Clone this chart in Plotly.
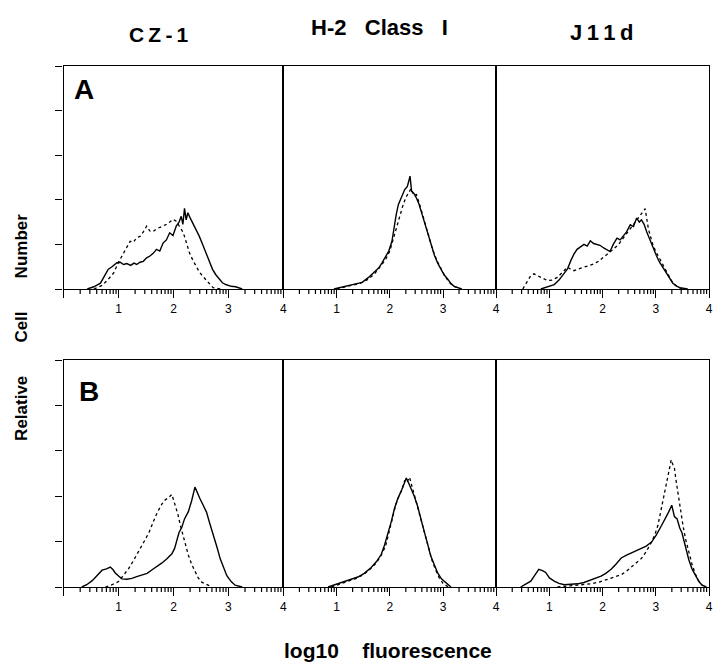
import math
import plotly.graph_objects as go

# ---------------- data (log10 fluorescence, relative cell number) ----------------
columns = ["C\u2009Z\u2009-\u20091", "H-2   Class   I", "J\u20091\u20091\u2009d"]
rows = ["A", "B"]
tick_labels = ["1", "2", "3", "4"]

# Row A
a1_solid_x = [0.43,0.55,0.67,0.75,0.81,0.88,0.97,1.03,1.09,1.15,1.22,1.28,1.33,1.39,1.45,1.51,1.57,1.63,1.69,1.75,1.81,1.87,1.93,1.99,2.05,2.1,2.14,2.17,2.2,2.23,2.26,2.3,2.35,2.41,2.47,2.53,2.59,2.65,2.71,2.77,2.83,2.89,2.95,3.05,3.13,3.25]
a1_solid_y = [0,0.05,0.13,0.3,0.44,0.5,0.59,0.6,0.55,0.57,0.53,0.58,0.55,0.6,0.62,0.7,0.74,0.8,0.89,0.85,1.03,1.1,1.26,1.2,1.41,1.5,1.63,1.45,1.81,1.55,1.71,1.6,1.48,1.35,1.18,1.0,0.81,0.62,0.44,0.32,0.22,0.14,0.1,0.06,0.05,0]
a1_dot_x = [0.55,0.7,0.8,0.91,1.0,1.09,1.15,1.21,1.27,1.33,1.39,1.45,1.51,1.57,1.63,1.69,1.75,1.81,1.87,1.93,1.99,2.05,2.11,2.16,2.2,2.25,2.29,2.35,2.41,2.47,2.53,2.59,2.65,2.72,2.85]
a1_dot_y = [0,0.08,0.2,0.36,0.6,0.81,0.95,1.07,1.05,1.15,1.18,1.28,1.41,1.3,1.29,1.35,1.38,1.41,1.45,1.5,1.56,1.52,1.41,1.3,1.18,1.0,0.81,0.65,0.51,0.38,0.29,0.2,0.13,0.03,0]

a2_solid_x = [0.95,1.1,1.23,1.35,1.48,1.6,1.7,1.79,1.85,1.91,1.98,2.04,2.08,2.12,2.16,2.22,2.28,2.33,2.38,2.41,2.45,2.5,2.55,2.59,2.65,2.72,2.78,2.84,2.9,2.96,3.02,3.09,3.15,3.21,3.35]
a2_solid_y = [0,0.04,0.08,0.12,0.15,0.26,0.36,0.47,0.58,0.7,0.85,1.07,1.4,1.67,1.89,2.08,2.23,2.3,2.53,2.19,2.15,2.04,1.9,1.74,1.5,1.2,0.95,0.75,0.58,0.45,0.32,0.22,0.12,0.06,0]
a2_dot_x = [1.0,1.15,1.3,1.45,1.6,1.72,1.82,1.92,2.0,2.06,2.12,2.18,2.24,2.3,2.35,2.4,2.45,2.5,2.56,2.62,2.68,2.74,2.8,2.88,2.96,3.04,3.12,3.2,3.35]
a2_dot_y = [0,0.04,0.09,0.13,0.22,0.35,0.5,0.66,0.85,1.1,1.4,1.6,1.85,2.05,2.15,2.25,2.1,2.12,1.9,1.65,1.4,1.15,0.9,0.65,0.45,0.28,0.15,0.06,0]

a3_solid_x = [0.84,0.95,1.09,1.18,1.27,1.34,1.4,1.46,1.52,1.58,1.65,1.71,1.77,1.83,1.89,1.95,2.02,2.08,2.14,2.2,2.27,2.33,2.39,2.45,2.52,2.58,2.64,2.69,2.73,2.78,2.83,2.89,2.95,3.01,3.07,3.13,3.2,3.26,3.32,3.4,3.45,3.6]
a3_solid_y = [0,0.04,0.1,0.2,0.33,0.45,0.63,0.78,0.89,0.95,1.0,0.96,1.08,1.02,1.0,0.98,0.92,0.88,0.84,1.0,1.14,1.1,1.2,1.28,1.44,1.4,1.59,1.5,1.55,1.45,1.28,1.1,0.9,0.75,0.6,0.48,0.36,0.24,0.13,0.06,0.03,0]
a3_dot_x = [0.5,0.59,0.65,0.71,0.78,0.84,0.9,0.96,1.05,1.15,1.25,1.34,1.4,1.46,1.55,1.65,1.74,1.83,1.92,2.02,2.11,2.2,2.3,2.39,2.48,2.58,2.65,2.71,2.76,2.8,2.86,2.9,2.95,3.04,3.14,3.23,3.32,3.42,3.5]
a3_dot_y = [0,0.19,0.3,0.34,0.3,0.26,0.22,0.19,0.2,0.26,0.38,0.49,0.44,0.41,0.45,0.49,0.52,0.56,0.62,0.71,0.8,0.89,1.0,1.14,1.28,1.44,1.55,1.65,1.74,1.8,1.35,1.15,0.97,0.75,0.52,0.32,0.13,0.04,0]

# Row B
b1_solid_x = [0.33,0.42,0.52,0.6,0.7,0.78,0.85,0.9,0.94,1.0,1.06,1.15,1.24,1.33,1.42,1.52,1.61,1.7,1.79,1.88,1.97,2.02,2.06,2.1,2.15,2.2,2.27,2.33,2.39,2.44,2.48,2.54,2.6,2.66,2.73,2.79,2.85,2.91,2.97,3.05,3.12,3.25]
b1_solid_y = [0,0.05,0.14,0.25,0.37,0.4,0.44,0.38,0.31,0.24,0.18,0.17,0.19,0.23,0.26,0.3,0.38,0.45,0.53,0.62,0.73,0.85,1.02,1.2,1.31,1.5,1.66,1.9,2.2,2.05,1.95,1.8,1.65,1.4,1.14,0.88,0.62,0.42,0.25,0.12,0.04,0]
b1_dot_x = [0.76,0.88,1.0,1.09,1.18,1.27,1.36,1.45,1.55,1.61,1.67,1.73,1.79,1.85,1.91,1.97,2.03,2.08,2.12,2.17,2.21,2.27,2.33,2.39,2.45,2.52,2.6,2.7]
b1_dot_y = [0,0.05,0.12,0.25,0.4,0.58,0.76,0.97,1.19,1.38,1.55,1.7,1.83,1.92,1.97,2.04,1.82,1.6,1.38,1.15,0.94,0.7,0.5,0.33,0.2,0.1,0.05,0]

b2_solid_x = [0.84,0.95,1.09,1.25,1.4,1.52,1.65,1.75,1.84,1.9,1.96,2.03,2.09,2.15,2.21,2.26,2.31,2.35,2.4,2.46,2.52,2.58,2.65,2.71,2.77,2.84,2.9,2.97,3.05,3.15]
b2_solid_y = [0,0.04,0.09,0.15,0.22,0.3,0.43,0.56,0.72,0.92,1.15,1.45,1.74,1.95,2.1,2.25,2.4,2.3,2.17,2.0,1.79,1.5,1.21,0.95,0.68,0.48,0.31,0.18,0.09,0]
b2_dot_x = [0.9,1.05,1.2,1.35,1.5,1.62,1.74,1.84,1.92,1.98,2.05,2.11,2.17,2.23,2.28,2.32,2.37,2.42,2.48,2.54,2.6,2.66,2.72,2.79,2.86,2.93,3.0,3.1]
b2_dot_y = [0,0.06,0.12,0.18,0.27,0.38,0.52,0.7,0.9,1.18,1.5,1.8,2.0,2.15,2.35,2.3,2.42,2.2,1.95,1.7,1.45,1.15,0.88,0.6,0.38,0.2,0.08,0]

b3_solid_x = [0.46,0.55,0.65,0.72,0.8,0.87,0.93,1.0,1.09,1.18,1.28,1.4,1.53,1.65,1.78,1.88,1.97,2.06,2.16,2.25,2.35,2.45,2.54,2.63,2.73,2.82,2.92,3.01,3.11,3.18,3.24,3.3,3.35,3.4,3.45,3.49,3.55,3.62,3.68,3.75,3.81,3.87,3.95]
b3_solid_y = [0,0.06,0.13,0.25,0.39,0.36,0.32,0.2,0.13,0.08,0.05,0.06,0.07,0.1,0.15,0.19,0.24,0.3,0.39,0.5,0.64,0.7,0.75,0.8,0.85,0.9,0.99,1.15,1.36,1.5,1.65,1.8,1.55,1.5,1.3,1.2,0.9,0.6,0.4,0.24,0.12,0.04,0]
b3_dot_x = [1.15,1.3,1.47,1.62,1.78,1.94,2.1,2.22,2.35,2.45,2.54,2.63,2.73,2.82,2.92,2.98,3.04,3.1,3.16,3.2,3.23,3.26,3.29,3.32,3.35,3.38,3.42,3.46,3.51,3.56,3.62,3.68,3.75,3.81,3.87,3.95]
b3_dot_y = [0,0.02,0.04,0.05,0.07,0.11,0.17,0.22,0.27,0.35,0.45,0.53,0.63,0.78,0.99,1.15,1.36,1.7,2.1,2.3,2.47,2.6,2.8,2.7,2.62,2.35,2.03,1.7,1.36,1.05,0.76,0.5,0.27,0.12,0.04,0]

panels = [
    (0, 0, a1_solid_x, a1_solid_y, a1_dot_x, a1_dot_y),
    (0, 1, a2_solid_x, a2_solid_y, a2_dot_x, a2_dot_y),
    (0, 2, a3_solid_x, a3_solid_y, a3_dot_x, a3_dot_y),
    (1, 0, b1_solid_x, b1_solid_y, b1_dot_x, b1_dot_y),
    (1, 1, b2_solid_x, b2_solid_y, b2_dot_x, b2_dot_y),
    (1, 2, b3_solid_x, b3_solid_y, b3_dot_x, b3_dot_y),
]

# ---------------- layout geometry ----------------
W, H = 716, 662
col_px = [(64, 285), (285, 499), (499, 713)]
row_px = [(66, 289), (360, 587)]
FONT = "Liberation Sans, Arial, Helvetica, sans-serif"
X_MAX = 4
minor_pos = [d + math.log10(k) for d in range(X_MAX) for k in range(2, 10)]
MINOR_LEN = 5

fig = go.Figure()
layout = {}
shapes = []
for i, (r, c, sx, sy, dx, dy) in enumerate(panels):
    idx = i + 1
    xa = "x" if idx == 1 else f"x{idx}"
    ya = "y" if idx == 1 else f"y{idx}"
    fig.add_trace(go.Scatter(x=dx, y=dy, xaxis=xa, yaxis=ya, mode="lines",
                             line=dict(color="black", width=1.3, dash="dot"),
                             showlegend=False, hoverinfo="skip"))
    fig.add_trace(go.Scatter(x=sx, y=sy, xaxis=xa, yaxis=ya, mode="lines",
                             line=dict(color="black", width=1.4),
                             showlegend=False, hoverinfo="skip"))
    x0, x1 = col_px[c]
    y0, y1 = row_px[r]
    key = "" if idx == 1 else str(idx)
    layout[f"xaxis{key}"] = dict(
        domain=[x0 / W, x1 / W], anchor=ya, range=[0, X_MAX],
        tickmode="array", tickvals=[0, 1, 2, 3, 4], ticktext=[""] + tick_labels,
        ticks="outside", ticklen=8, tickwidth=1.3, tickcolor="black",
        showline=True, mirror=True, linecolor="black", linewidth=1.3,
        showgrid=False, zeroline=False, fixedrange=True,
        tickfont=dict(family=FONT, size=12, color="black"),
    )
    layout[f"yaxis{key}"] = dict(
        domain=[1 - y1 / H, 1 - y0 / H], anchor=xa, range=[0, 5],
        tickmode="array", tickvals=[0, 1, 2, 3, 4, 5],
        ticks="outside" if c == 0 else "", ticklen=7, tickwidth=1.3, tickcolor="black",
        showticklabels=False,
        showline=True, mirror=True, linecolor="black", linewidth=1.3,
        showgrid=False, zeroline=False, fixedrange=True,
    )
    # minor log ticks below the x axis line (paper coordinates from the domain)
    for m in minor_pos:
        xp = (x0 + (x1 - x0) * m / X_MAX) / W
        shapes.append(dict(type="line", xref="paper", yref="paper",
                           x0=xp, x1=xp, y0=1 - y1 / H, y1=1 - (y1 + MINOR_LEN) / H,
                           line=dict(color="black", width=1.2), layer="above"))

annotations = []
title_pos = [(160, 34), (382, 27), (605, 32)]
title_size = [21, 22, 22]
for name, (px, py), sz in zip(columns, title_pos, title_size):
    annotations.append(dict(text=name, x=px / W, y=1 - py / H, xref="paper", yref="paper",
                            showarrow=False, xanchor="center", yanchor="middle",
                            font=dict(family=FONT, size=sz, color="black", weight="bold")))
letter_pos = [(84, 90), (89, 392)]
for name, (px, py) in zip(rows, letter_pos):
    annotations.append(dict(text=name, x=px / W, y=1 - py / H, xref="paper", yref="paper",
                            showarrow=False, xanchor="center", yanchor="middle",
                            font=dict(family=FONT, size=28, color="black", weight="bold")))
gap = " " * 7
annotations.append(dict(text=f"Relative{gap}Cell{gap}Number", x=21 / W, y=1 - 327 / H,
                        xref="paper", yref="paper", showarrow=False, textangle=-90,
                        xanchor="center", yanchor="middle",
                        font=dict(family=FONT, size=17, color="black", weight="bold")))
annotations.append(dict(text="log10    fluorescence", x=390 / W, y=1 - 650 / H,
                        xref="paper", yref="paper", showarrow=False,
                        xanchor="center", yanchor="middle",
                        font=dict(family=FONT, size=21, color="black", weight="bold")))

fig.update_layout(
    width=W, height=H, margin=dict(l=0, r=0, t=0, b=0),
    paper_bgcolor="white", plot_bgcolor="white",
    annotations=annotations, shapes=shapes, showlegend=False,
    **layout,
)

fig.write_html("out.html")
